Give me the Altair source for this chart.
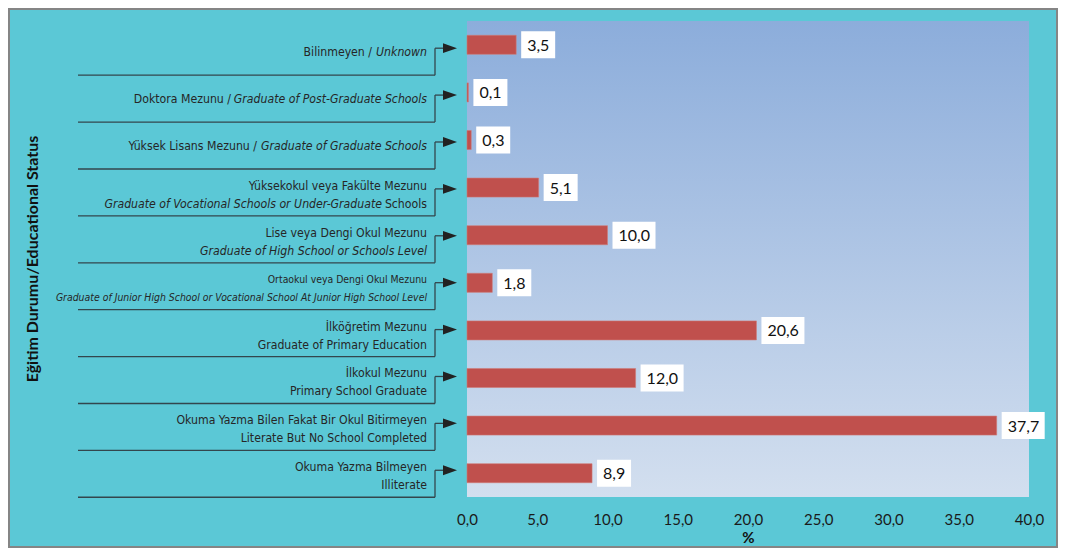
import altair as alt
import pandas as pd

# ---------------- data ----------------
categories = [
    "Bilinmeyen", "Doktora", "Yüksek Lisans", "Yüksekokul", "Lise",
    "Ortaokul", "İlköğretim", "İlkokul", "Okuma Yazma Bilen", "Okuma Yazma Bilmeyen",
]
values = [3.5, 0.1, 0.3, 5.1, 10.0, 1.8, 20.6, 12.0, 37.7, 8.9]
value_labels = ["3,5", "0,1", "0,3", "5,1", "10,0", "1,8", "20,6", "12,0", "37,7", "8,9"]
x_ticks = [0, 5, 10, 15, 20, 25, 30, 35, 40]

# category label segments: row index, line ("single", "l1", "l2"), text, italic
seg_rows = [0, 0, 1, 1, 2, 2, 3, 3, 3, 4, 4, 5, 5, 6, 6, 7, 7, 8, 8, 9, 9]
seg_lines = ["single", "single", "single", "single", "single", "single",
             "l1", "l2", "l2", "l1", "l2", "l1", "l2", "l1", "l2", "l1", "l2",
             "l1", "l2", "l1", "l2"]
seg_texts = [
    "Bilinmeyen /", "Unknown",
    "Doktora Mezunu /", "Graduate of Post-Graduate Schools",
    "Yüksek Lisans Mezunu /", "Graduate of Graduate Schools",
    "Yüksekokul veya Fakülte Mezunu", "Graduate of Vocational Schools or Under-Graduate", "Schools",
    "Lise veya Dengi Okul Mezunu", "Graduate of High School or  Schools Level",
    "Ortaokul veya Dengi Okul Mezunu",
    "Graduate of Junior High School or Vocational School At Junior High School Level",
    "İlköğretim Mezunu", "Graduate of Primary Education",
    "İlkokul Mezunu", "Primary School Graduate",
    "Okuma Yazma Bilen Fakat Bir Okul Bitirmeyen", "Literate But No School Completed",
    "Okuma Yazma Bilmeyen", "Illiterate",
]
seg_italic = [False, True, False, True, False, True,
              False, True, False, False, True, False, True,
              False, False, False, False, False, False, False, False]

y_title = "Eğitim Durumu/Educational Status"

# ---------------- styles ----------------
TEAL = "#5BC8D6"
BAR = "#C0504D"
LINE = "#33464d"
TXT = "#262626"
LABEL_FONT = "Liberation Sans Narrow, DejaVu Sans Condensed, Liberation Sans"
NUM_FONT = "Lato"

W, H = 562, 476
PAD = {"left": 459, "top": 13, "right": 29, "bottom": 51}

# right edge (px, relative to plot left) of each label segment
seg_right = {0: -95, 2: -236, 4: -210, 7: -85}
line_dy = {"single": 4, "l1": -3, "l2": 15}
row_scale = alt.Scale(domain=[-0.58, 9.57], reverse=True, nice=False, zero=False)

bars_df = pd.DataFrame({"cat": categories, "value": values, "label": value_labels})
rows_df = pd.DataFrame({"row": list(range(len(categories)))})

xscale = alt.Scale(domain=[0, 40], nice=False, zero=True)
yband = alt.Scale(domain=categories, paddingInner=0.6, paddingOuter=0.3)
xaxis = alt.Axis(values=x_ticks,
                 labelExpr="replace(format(datum.value, '.1f'), '.', ',')",
                 ticks=False, domain=False, grid=False, labelFlush=False,
                 labelFont=NUM_FONT, labelFontSize=15, labelColor="#1a1a1a",
                 labelPadding=15, title="%", titleFont=NUM_FONT,
                 titleFontSize=15, titleFontWeight="bold", titleColor="#111",
                 titlePadding=3)
xenc = alt.X("value:Q", scale=xscale, axis=xaxis, title="%")
yenc = alt.Y("cat:N", scale=yband, axis=None)

bg = alt.Chart(pd.DataFrame({"a": [0]})).mark_rect(
    color=alt.LinearGradient(
        gradient="linear",
        stops=[alt.GradientStop(color="#8CADDB", offset=0),
               alt.GradientStop(color="#D3DFEF", offset=1)],
        x1=0, x2=0, y1=0, y2=1,
    )
).encode(x=alt.value(0), x2=alt.value(W), y=alt.value(0), y2=alt.value(H))

bars = alt.Chart(bars_df).mark_bar(color=BAR, stroke="#cf7a77", strokeWidth=0.6).encode(
    x=xenc, y=yenc)

boxes3 = alt.Chart(bars_df).transform_filter("length(datum.label) == 3").mark_bar(
    color="white", size=27, xOffset=5, x2Offset=39
).encode(x=xenc, x2="value:Q", y=yenc)

boxes4 = alt.Chart(bars_df).transform_filter("length(datum.label) == 4").mark_bar(
    color="white", size=27, xOffset=5, x2Offset=48
).encode(x=xenc, x2="value:Q", y=yenc)

vtext = alt.Chart(bars_df).mark_text(
    align="left", baseline="middle", dx=11, dy=1, font=NUM_FONT, fontSize=16, color="#111"
).encode(x=xenc, y=yenc, text="label:N")

# connector lines
ry = alt.Y("row:Q", scale=row_scale, axis=None)
bottom_rule = alt.Chart(rows_df).mark_rule(color=LINE, strokeWidth=1.3, yOffset=27).encode(
    x=alt.value(-389), x2=alt.value(-32), y=ry)
vert_rule = alt.Chart(rows_df).mark_rule(color=LINE, strokeWidth=1.3, y2Offset=27).encode(
    x=alt.value(-32), y=ry, y2="row:Q")
shaft = alt.Chart(rows_df).mark_rule(color=LINE, strokeWidth=1.3).encode(
    x=alt.value(-32), x2=alt.value(-20), y=ry)
heads = alt.Chart(rows_df).mark_point(
    shape="M-1,-0.7L1,0L-1,0.7Z", filled=True, color="#222", opacity=1, size=196
).encode(x=alt.value(-17), y=ry)

label_layers = []
for i, (r, ln, t, it) in enumerate(zip(seg_rows, seg_lines, seg_texts, seg_italic)):
    size = 12.2
    if r == 5:
        size = 10.4
    label_layers.append(
        alt.Chart(pd.DataFrame({"row": [r], "text": [t]})).mark_text(
            align="right", baseline="middle", font=LABEL_FONT, fontSize=size,
            fontStyle="italic" if it else "normal", color=TXT, dy=line_dy[ln]
        ).encode(x=alt.value(seg_right.get(i, -40)), y=ry, text="text:N")
    )

ytitle = alt.Chart(pd.DataFrame({"t": [y_title]})).mark_text(
    angle=270, font=NUM_FONT, fontSize=16, fontWeight="bold", color="#111",
    align="center", baseline="middle"
).encode(x=alt.value(-434), y=alt.value(238), text="t:N")

border = alt.Chart(pd.DataFrame({"a": [0]})).mark_rect(
    fillOpacity=0, stroke="#858585", strokeWidth=2
).encode(x=alt.value(-458), x2=alt.value(W + 28), y=alt.value(-12), y2=alt.value(H + 50))

chart = alt.layer(
    bg, bars, boxes3, boxes4, vtext, bottom_rule, vert_rule, shaft, heads,
    *label_layers, ytitle, border
).resolve_scale(y="independent").properties(
    width=W, height=H, padding=PAD,
    autosize=alt.AutoSizeParams(type="none"), background=TEAL
).configure_view(strokeWidth=0)

chart.save("out.html", embed_options={"renderer": "svg", "actions": False})
